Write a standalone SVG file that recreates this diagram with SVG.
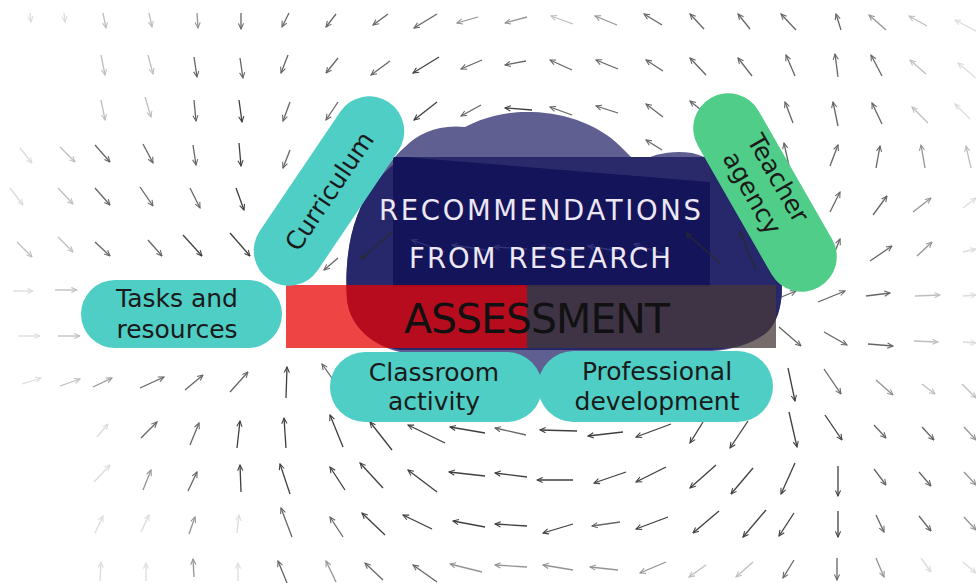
<svg xmlns="http://www.w3.org/2000/svg" width="976" height="583" viewBox="0 0 976 583">
  <defs>
    <marker id="ah" viewBox="0 0 10 10" refX="9" refY="5" markerWidth="7" markerHeight="7" markerUnits="userSpaceOnUse" orient="auto">
      <path d="M1,1.3 L9,5 L1,8.7" fill="none" stroke="#2b2b2b" stroke-width="1.5"/>
    </marker>
    <marker id="ahb" viewBox="0 0 10 10" refX="9" refY="5" markerWidth="7" markerHeight="7" markerUnits="userSpaceOnUse" orient="auto">
      <path d="M1,1.3 L9,5 L1,8.7" fill="none" stroke="#3d3d86" stroke-width="1.5"/>
    </marker>
    <style>
      .field line { stroke:#2b2b2b; stroke-width:1.3; fill:none; marker-end:url(#ah); }
      .o1 { opacity:.16; } .o2 { opacity:.3; } .o3 { opacity:.5; } .o4 { opacity:.72; } .o5 { opacity:.9; }
      .oc { opacity:.85; }
      .field line.ob { stroke:#3d3d86; marker-end:url(#ahb); opacity:.8; }
      .pill { fill:#4fcec5; }
      .pill-green { fill:#50cd88; }
      .lbl { font-family:"DejaVu Sans", "Liberation Sans", sans-serif; font-size:25px; fill:#1a1a1a; text-anchor:middle; }
      .head { font-family:"DejaVu Sans", "Liberation Sans", sans-serif; font-size:27.5px; fill:#ece7f3; text-anchor:middle; }
      .big { font-family:"DejaVu Sans", "Liberation Sans", sans-serif; font-size:41px; fill:#111111; text-anchor:middle; }
    </style>
  </defs>

  <rect width="976" height="583" fill="#ffffff"/>

  <!-- vector field behind everything -->
  <g id="field" class="field">
    <!-- row 1 -->
    <line x1="30" y1="13" x2="31" y2="22" class="o1"/>
    <line x1="64" y1="13" x2="65" y2="22" class="o1"/>
    <line x1="103" y1="13" x2="106" y2="28" class="o2"/>
    <line x1="149" y1="13" x2="152" y2="27" class="o2"/>
    <line x1="197" y1="13" x2="198" y2="28" class="o3"/>
    <line x1="241" y1="13" x2="241" y2="29" class="o4"/>
    <line x1="289" y1="13" x2="282" y2="27" class="o4"/>
    <line x1="336" y1="14" x2="326" y2="27" class="o4"/>
    <line x1="388" y1="14" x2="373" y2="25" class="o4"/>
    <line x1="437" y1="14" x2="414" y2="28" class="o4"/>
    <line x1="478" y1="17" x2="457" y2="23" class="o3"/>
    <line x1="527" y1="17" x2="505" y2="23" class="o3"/>
    <line x1="573" y1="24" x2="551" y2="16" class="o2"/>
    <line x1="617" y1="25" x2="595" y2="16" class="o3"/>
    <line x1="662" y1="25" x2="644" y2="14" class="o4"/>
    <line x1="704" y1="29" x2="690" y2="14" class="o4"/>
    <line x1="750" y1="29" x2="738" y2="14" class="o4"/>
    <line x1="796" y1="30" x2="781" y2="14" class="o4"/>
    <line x1="841" y1="30" x2="836" y2="14" class="o4"/>
    <line x1="886" y1="30" x2="869" y2="15" class="o3"/>
    <line x1="927" y1="26" x2="909" y2="16" class="o2"/>
    <line x1="976" y1="31" x2="955" y2="20" class="o1"/>
    <!-- row 2 -->
    <line x1="101" y1="55" x2="105" y2="75" class="o2"/>
    <line x1="148" y1="55" x2="153" y2="74" class="o2"/>
    <line x1="194" y1="57" x2="197" y2="77" class="o4"/>
    <line x1="240" y1="58" x2="243" y2="78" class="o4"/>
    <line x1="288" y1="55" x2="281" y2="73" class="o4"/>
    <line x1="338" y1="58" x2="326" y2="73" class="o4"/>
    <line x1="390" y1="61" x2="371" y2="75" class="o4"/>
    <line x1="439" y1="57" x2="413" y2="73" class="o5"/>
    <line x1="482" y1="60" x2="461" y2="69" class="o4"/>
    <line x1="526" y1="61" x2="505" y2="65" class="o4"/>
    <line x1="572" y1="70" x2="550" y2="60" class="o4"/>
    <line x1="618" y1="69" x2="596" y2="60" class="o4"/>
    <line x1="663" y1="71" x2="646" y2="60" class="o4"/>
    <line x1="706" y1="75" x2="690" y2="58" class="o4"/>
    <line x1="752" y1="76" x2="738" y2="58" class="o4"/>
    <line x1="795" y1="76" x2="786" y2="55" class="o4"/>
    <line x1="838" y1="77" x2="835" y2="54" class="o4"/>
    <line x1="882" y1="76" x2="871" y2="55" class="o4"/>
    <line x1="926" y1="74" x2="910" y2="60" class="o2"/>
    <line x1="976" y1="78" x2="958" y2="63" class="o1"/>
    <!-- row 3 -->
    <line x1="101" y1="100" x2="105" y2="120" class="o2"/>
    <line x1="145" y1="97" x2="151" y2="117" class="o2"/>
    <line x1="194" y1="100" x2="196" y2="121" class="o4"/>
    <line x1="239" y1="100" x2="242" y2="122" class="o5"/>
    <line x1="290" y1="102" x2="283" y2="121" class="o4"/>
    <line x1="338" y1="102" x2="326" y2="120" class="o4"/>
    <line x1="437" y1="102" x2="414" y2="120" class="o5"/>
    <line x1="481" y1="105" x2="461" y2="116" class="o4"/>
    <line x1="532" y1="110" x2="505" y2="108" class="o5"/>
    <line x1="572" y1="115" x2="550" y2="107" class="o4"/>
    <line x1="618" y1="113" x2="596" y2="106" class="o4"/>
    <line x1="663" y1="117" x2="646" y2="104" class="o4"/>
    <line x1="706" y1="114" x2="690" y2="101" class="o4"/>
    <line x1="750" y1="119" x2="738" y2="103" class="o4"/>
    <line x1="793" y1="123" x2="785" y2="102" class="o4"/>
    <line x1="838" y1="126" x2="833" y2="102" class="o4"/>
    <line x1="882" y1="124" x2="872" y2="103" class="o4"/>
    <line x1="928" y1="123" x2="912" y2="107" class="o2"/>
    <line x1="970" y1="119" x2="955" y2="104" class="o1"/>
    <!-- row 4 -->
    <line x1="20" y1="148" x2="32" y2="163" class="o1"/>
    <line x1="60" y1="147" x2="75" y2="162" class="o2"/>
    <line x1="95" y1="145" x2="110" y2="162" class="o4"/>
    <line x1="143" y1="144" x2="153" y2="163" class="o4"/>
    <line x1="193" y1="145" x2="196" y2="165" class="o4"/>
    <line x1="239" y1="143" x2="241" y2="166" class="o5"/>
    <line x1="290" y1="150" x2="283" y2="168" class="o4"/>
    <line x1="662" y1="150" x2="646" y2="140" class="o4"/>
    <line x1="789" y1="166" x2="784" y2="143" class="o4"/>
    <line x1="830" y1="166" x2="838" y2="145" class="o4"/>
    <line x1="876" y1="168" x2="880" y2="146" class="o4"/>
    <line x1="925" y1="168" x2="921" y2="145" class="o3"/>
    <line x1="971" y1="168" x2="966" y2="146" class="o2"/>
    <!-- row 5 -->
    <line x1="10" y1="188" x2="23" y2="205" class="o1"/>
    <line x1="58" y1="188" x2="73" y2="204" class="o2"/>
    <line x1="95" y1="188" x2="110" y2="205" class="o4"/>
    <line x1="140" y1="187" x2="153" y2="206" class="o4"/>
    <line x1="190" y1="188" x2="200" y2="208" class="o4"/>
    <line x1="236" y1="188" x2="244" y2="210" class="o5"/>
    <line x1="288" y1="192" x2="282" y2="211" class="o4"/>
    <line x1="830" y1="212" x2="840" y2="192" class="o4"/>
    <line x1="873" y1="215" x2="887" y2="196" class="o4"/>
    <line x1="913" y1="212" x2="931" y2="198" class="o3"/>
    <line x1="963" y1="208" x2="976" y2="198" class="o1"/>
    <!-- row 6 -->
    <line x1="17" y1="242" x2="32" y2="257" class="o2"/>
    <line x1="58" y1="237" x2="73" y2="252" class="o2"/>
    <line x1="95" y1="242" x2="110" y2="256" class="o4"/>
    <line x1="148" y1="240" x2="162" y2="256" class="o4"/>
    <line x1="183" y1="235" x2="202" y2="256" class="o5"/>
    <line x1="230" y1="233" x2="250" y2="256" class="o5"/>
    <line x1="338" y1="258" x2="324" y2="270" class="o4"/>
    <line x1="832" y1="259" x2="840" y2="239" class="o4"/>
    <line x1="870" y1="261" x2="892" y2="246" class="o4"/>
    <line x1="917" y1="256" x2="932" y2="242" class="o3"/>
    <line x1="963" y1="252" x2="976" y2="249" class="o1"/>
    <!-- row 7 -->
    <line x1="13" y1="291" x2="33" y2="291" class="o1"/>
    <line x1="55" y1="290" x2="77" y2="290" class="o2"/>
    <line x1="779" y1="298" x2="796" y2="291" class="o4"/>
    <line x1="818" y1="302" x2="845" y2="291" class="o4"/>
    <line x1="866" y1="296" x2="890" y2="293" class="o4"/>
    <line x1="915" y1="296" x2="940" y2="295" class="o2"/>
    <line x1="963" y1="296" x2="976" y2="295" class="o1"/>
    <!-- row 8 -->
    <line x1="18" y1="336" x2="40" y2="336" class="o1"/>
    <line x1="58" y1="336" x2="80" y2="336" class="o2"/>
    <line x1="779" y1="327" x2="801" y2="346" class="o4"/>
    <line x1="824" y1="332" x2="847" y2="345" class="o4"/>
    <line x1="868" y1="344" x2="893" y2="346" class="o4"/>
    <line x1="914" y1="341" x2="938" y2="342" class="o2"/>
    <line x1="963" y1="342" x2="976" y2="343" class="o1"/>
    <!-- row 9 -->
    <line x1="22" y1="384" x2="41" y2="378" class="o1"/>
    <line x1="60" y1="386" x2="80" y2="379" class="o2"/>
    <line x1="93" y1="387" x2="112" y2="378" class="o3"/>
    <line x1="140" y1="388" x2="164" y2="377" class="o4"/>
    <line x1="185" y1="390" x2="203" y2="375" class="o4"/>
    <line x1="230" y1="392" x2="248" y2="372" class="o4"/>
    <line x1="286" y1="398" x2="287" y2="367" class="o5"/>
    <line x1="334" y1="381" x2="322" y2="364" class="o4"/>
    <line x1="788" y1="368" x2="795" y2="401" class="o5"/>
    <line x1="824" y1="369" x2="841" y2="394" class="o4"/>
    <line x1="876" y1="380" x2="893" y2="395" class="o3"/>
    <line x1="922" y1="384" x2="935" y2="394" class="o2"/>
    <line x1="962" y1="384" x2="976" y2="398" class="o2"/>
    <!-- row 10 -->
    <line x1="97" y1="437" x2="108" y2="424" class="o1"/>
    <line x1="141" y1="438" x2="157" y2="422" class="o4"/>
    <line x1="190" y1="445" x2="199" y2="423" class="o4"/>
    <line x1="237" y1="448" x2="240" y2="421" class="o5"/>
    <line x1="286" y1="448" x2="284" y2="418" class="o5"/>
    <line x1="343" y1="447" x2="330" y2="415" class="o5"/>
    <line x1="392" y1="450" x2="370" y2="422" class="o5"/>
    <line x1="445" y1="443" x2="408" y2="425" class="o5"/>
    <line x1="485" y1="433" x2="450" y2="427" class="o5"/>
    <line x1="526" y1="435" x2="495" y2="428" class="o4"/>
    <line x1="577" y1="431" x2="540" y2="430" class="o5"/>
    <line x1="623" y1="432" x2="588" y2="436" class="o5"/>
    <line x1="671" y1="424" x2="636" y2="437" class="o5"/>
    <line x1="703" y1="422" x2="690" y2="443" class="o5"/>
    <line x1="748" y1="421" x2="730" y2="448" class="o5"/>
    <line x1="789" y1="412" x2="797" y2="447" class="o5"/>
    <line x1="825" y1="415" x2="842" y2="440" class="o5"/>
    <line x1="874" y1="425" x2="886" y2="438" class="o4"/>
    <line x1="922" y1="427" x2="934" y2="440" class="o4"/>
    <line x1="964" y1="427" x2="976" y2="440" class="o3"/>
    <!-- row 11 -->
    <line x1="94" y1="482" x2="110" y2="465" class="o1"/>
    <line x1="143" y1="490" x2="151" y2="470" class="o3"/>
    <line x1="188" y1="491" x2="197" y2="472" class="o4"/>
    <line x1="241" y1="492" x2="240" y2="465" class="o5"/>
    <line x1="290" y1="494" x2="280" y2="464" class="o5"/>
    <line x1="345" y1="490" x2="330" y2="467" class="o5"/>
    <line x1="383" y1="488" x2="360" y2="463" class="o5"/>
    <line x1="437" y1="492" x2="408" y2="470" class="o5"/>
    <line x1="485" y1="476" x2="449" y2="472" class="o5"/>
    <line x1="527" y1="477" x2="495" y2="473" class="o5"/>
    <line x1="573" y1="480" x2="537" y2="480" class="o5"/>
    <line x1="626" y1="472" x2="594" y2="483" class="o5"/>
    <line x1="666" y1="467" x2="636" y2="482" class="o5"/>
    <line x1="716" y1="465" x2="690" y2="488" class="o5"/>
    <line x1="753" y1="468" x2="731" y2="494" class="o5"/>
    <line x1="795" y1="463" x2="781" y2="494" class="o5"/>
    <line x1="838" y1="466" x2="838" y2="496" class="o5"/>
    <line x1="874" y1="469" x2="886" y2="485" class="o4"/>
    <line x1="919" y1="472" x2="931" y2="486" class="o4"/>
    <line x1="964" y1="472" x2="976" y2="485" class="o3"/>
    <!-- row 12 -->
    <line x1="95" y1="533" x2="103" y2="516" class="o1"/>
    <line x1="141" y1="532" x2="149" y2="515" class="o1"/>
    <line x1="189" y1="534" x2="195" y2="517" class="o3"/>
    <line x1="237" y1="533" x2="239" y2="515" class="o1"/>
    <line x1="292" y1="537" x2="281" y2="508" class="o4"/>
    <line x1="343" y1="537" x2="330" y2="517" class="o4"/>
    <line x1="385" y1="535" x2="362" y2="513" class="o5"/>
    <line x1="432" y1="529" x2="403" y2="515" class="o5"/>
    <line x1="485" y1="527" x2="453" y2="521" class="o5"/>
    <line x1="527" y1="526" x2="495" y2="524" class="o5"/>
    <line x1="573" y1="524" x2="543" y2="533" class="o5"/>
    <line x1="620" y1="522" x2="592" y2="526" class="o4"/>
    <line x1="668" y1="517" x2="636" y2="529" class="o5"/>
    <line x1="719" y1="511" x2="693" y2="533" class="o5"/>
    <line x1="766" y1="510" x2="743" y2="537" class="o5"/>
    <line x1="794" y1="513" x2="779" y2="536" class="o5"/>
    <line x1="838" y1="511" x2="838" y2="537" class="o5"/>
    <line x1="876" y1="515" x2="884" y2="532" class="o4"/>
    <line x1="919" y1="516" x2="931" y2="531" class="o4"/>
    <line x1="964" y1="517" x2="976" y2="530" class="o3"/>
    <!-- row 13 -->
    <line x1="100" y1="581" x2="101" y2="562" class="o1"/>
    <line x1="146" y1="581" x2="146" y2="563" class="o1"/>
    <line x1="194" y1="577" x2="193" y2="559" class="o3"/>
    <line x1="238" y1="581" x2="238" y2="563" class="o1"/>
    <line x1="287" y1="583" x2="278" y2="561" class="o4"/>
    <line x1="336" y1="582" x2="326" y2="561" class="o3"/>
    <line x1="383" y1="580" x2="365" y2="563" class="o4"/>
    <line x1="437" y1="582" x2="413" y2="565" class="o4"/>
    <line x1="482" y1="572" x2="450" y2="564" class="o3"/>
    <line x1="527" y1="567" x2="495" y2="565" class="o3"/>
    <line x1="573" y1="570" x2="543" y2="565" class="o3"/>
    <line x1="618" y1="570" x2="590" y2="567" class="o3"/>
    <line x1="666" y1="562" x2="640" y2="573" class="o3"/>
    <line x1="706" y1="565" x2="689" y2="577" class="o2"/>
    <line x1="753" y1="562" x2="736" y2="577" class="o2"/>
    <line x1="794" y1="560" x2="783" y2="578" class="o4"/>
    <line x1="837" y1="558" x2="837" y2="580" class="o4"/>
    <line x1="876" y1="558" x2="884" y2="577" class="o3"/>
    <line x1="921" y1="558" x2="931" y2="572" class="o1"/>
    <line x1="963" y1="562" x2="976" y2="573" class="o1"/>
  </g>

  <!-- cloud -->
  <g id="cloud">
    <path fill="#5f5f92" d="M347,300 C344,255 352,212 376,182 C386,168 395,155 405,147 C418,133 440,124 465,127 C482,118 505,111 532,112 C568,113 600,126 620,146 C627,153 633,159 638,163 C652,154 672,150 692,153 C732,162 766,208 777,252 C786,285 783,318 766,333 C752,344 732,350 712,351 C660,354 600,360 560,372 C550,376 530,376 520,372 C480,360 430,356 400,352 C372,346 350,326 347,300 Z"/>
    <path fill="#27276b" d="M347,300 C344,255 352,212 376,182 C386,170 395,162 405,158 L690,158 C730,168 766,208 777,252 C786,285 783,318 766,333 C752,344 732,349 712,350 L400,350 C372,346 350,326 347,300 Z"/>
  </g>

  <!-- arrows visible over the cloud edges -->
  <g id="field-over" class="field">
    <line x1="392" y1="232" x2="361" y2="259" class="oc"/>
  </g>

  <!-- recommendations box -->
  <g id="recommendations">
    <rect x="393" y="157" width="317" height="130" fill="#14145b"/>
    <polygon points="405,157 710,157 710,182" fill="#5f5f92" opacity="0.3"/>
    <g class="field">
      <line x1="445" y1="252" x2="412" y2="240" class="ob"/>
      <line x1="486" y1="250" x2="452" y2="245" class="ob"/>
      <line x1="527" y1="249" x2="494" y2="247" class="ob"/>
      <line x1="572" y1="250" x2="540" y2="247" class="ob"/>
      <line x1="618" y1="251" x2="588" y2="246" class="ob"/>
      <line x1="664" y1="254" x2="634" y2="244" class="ob"/>
      <line x1="720" y1="263" x2="686" y2="233" class="oc"/>
      <line x1="756" y1="270" x2="740" y2="232" class="oc"/>
    </g>
    <text class="head" x="540" y="220" textLength="322" lengthAdjust="spacing">RECOMMENDATIONS</text>
    <text class="head" x="540" y="268" textLength="262" lengthAdjust="spacing">FROM RESEARCH</text>
  </g>

  <!-- assessment bar -->
  <g id="assessment">
    <rect x="286" y="285" width="241" height="63" fill="#e90303" opacity="0.74"/>
    <rect x="527" y="285" width="249" height="63" fill="#483838" opacity="0.74"/>
    <text class="big" x="537" y="333" textLength="266" lengthAdjust="spacing">ASSESSMENT</text>
  </g>

  <!-- satellite topics -->
  <g id="tasks">
    <rect class="pill" x="81" y="280" width="201" height="68" rx="34"/>
    <text class="lbl" x="177" y="307">Tasks and</text>
    <text class="lbl" x="177" y="338">resources</text>
  </g>

  <g id="curriculum" transform="translate(329,191) rotate(-56)">
    <rect class="pill" x="-107" y="-35" width="214" height="70" rx="35"/>
    <text class="lbl" x="0" y="9">Curriculum</text>
  </g>

  <g id="teacher-agency" transform="translate(765,192.5) rotate(60.2)">
    <rect class="pill-green" x="-109" y="-35" width="218" height="70" rx="35"/>
    <text class="lbl" x="-6" y="-10">Teacher</text>
    <text class="lbl" x="-6" y="20">agency</text>
  </g>

  <g id="classroom">
    <rect class="pill" x="330" y="352" width="212" height="70" rx="35"/>
    <text class="lbl" x="434" y="381">Classroom</text>
    <text class="lbl" x="434" y="410">activity</text>
  </g>

  <g id="professional">
    <rect class="pill" x="538" y="351" width="235" height="71" rx="35.5"/>
    <text class="lbl" x="657" y="380">Professional</text>
    <text class="lbl" x="657" y="410">development</text>
  </g>
</svg>
